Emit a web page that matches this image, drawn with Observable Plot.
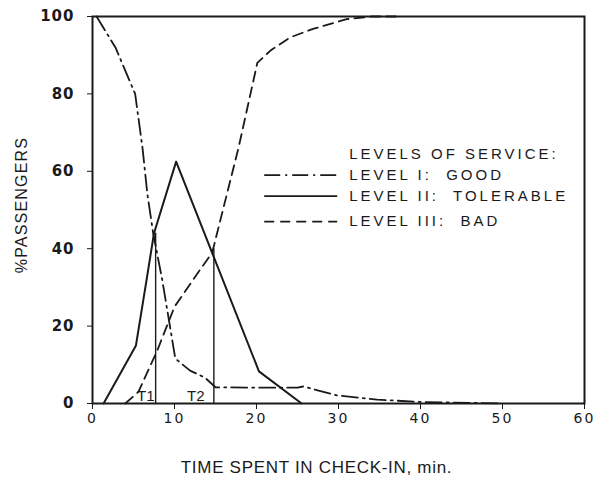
<!DOCTYPE html>
<html><head><meta charset="utf-8">
<script src="https://cdn.jsdelivr.net/npm/d3@7"></script>
<script src="https://cdn.jsdelivr.net/npm/@observablehq/plot@0.6"></script>
<style>
body{margin:0;background:#fff}
.lsp text{letter-spacing:3px}
.xt text{letter-spacing:2px}
.yt text{letter-spacing:1px}
.ylab text{letter-spacing:1.2px}
.xlab text{letter-spacing:0.7px}
</style>
</head><body><div id="chart"></div>
<script>
// Tick values
const xTicks = [0, 10, 20, 30, 40, 50, 60];
const yTicks = [0, 20, 40, 60, 80, 100];

// Level I: GOOD (dash-dot)
const goodX = [0.5, 2.8, 5.2, 6.1, 6.7, 7.4, 8.5, 10.1, 11.9, 13.7, 15, 20, 25, 25.7, 29.8, 34.7, 40, 50];
const goodY = [100, 92, 80, 66, 54, 44, 32, 11.6, 8.5, 6.7, 4.2, 4.1, 4.1, 4.4, 2.1, 1.0, 0.4, 0];

// Level II: TOLERABLE (solid)
const tolX = [1.35, 5.3, 6.6, 7.5, 10.2, 20.3, 25.5];
const tolY = [0, 15, 32, 44, 62.5, 8.3, 0];

// Level III: BAD (dashed)
const badX = [4, 5.6, 7.9, 10, 12.8, 14.6, 17.8, 20.1, 21.7, 24.1, 26.9, 31, 34, 37];
const badY = [0, 3, 13.7, 25, 33.6, 39, 66, 88, 91.2, 94.6, 96.8, 99.3, 100, 100];

// Threshold markers T1, T2
const markerNames = ["T1", "T2"];
const markerX = [7.7, 14.8];
const markerTop = [44, 40];
const markerLabelX = [6.5, 12.6];

// Legend
const legendTitle = "LEVELS OF SERVICE:";
const legendLabels = ["LEVEL I:  GOOD", "LEVEL II:  TOLERABLE", "LEVEL III:  BAD"];

const toRows = (xs, ys) => xs.map((x, i) => ({x, y: ys[i]}));
const good = toRows(goodX, goodY);
const tol = toRows(tolX, tolY);
const bad = toRows(badX, badY);
const markers = markerNames.map((name, i) => ({name, x: markerX[i], top: markerTop[i], lx: markerLabelX[i]}));

const dashes = ["16,5,2,5", null, "10,6"];
const legX1 = 21.0, legX2 = 29.9, legTextX = 31.3;
const legRowY = [59.0, 53.6, 47.0];
const legTitleY = 64.5;
const legendRows = legendLabels.map((label, i) => ({label, y: legRowY[i]}));

const font = "Liberation Sans, Arial, sans-serif";

const chart = Plot.plot({
  width: 613,
  height: 482,
  marginLeft: 92,
  marginRight: 29,
  marginTop: 16,
  marginBottom: 79,
  x: {domain: [0, 60]},
  y: {domain: [0, 100]},
  style: {fontFamily: font, color: "#1a1a1a", background: "#fff"},
  marks: [
    Plot.line(good, {x: "x", y: "y", stroke: "#1a1a1a", strokeWidth: 1.8, strokeDasharray: dashes[0]}),
    Plot.line(tol, {x: "x", y: "y", stroke: "#1a1a1a", strokeWidth: 2}),
    Plot.line(bad, {x: "x", y: "y", stroke: "#1a1a1a", strokeWidth: 1.8, strokeDasharray: dashes[2]}),
    Plot.ruleX(markers, {x: "x", y1: 0, y2: "top", stroke: "#1a1a1a", strokeWidth: 1.4}),
    Plot.text(markers, {x: "lx", y: 2, text: "name", fontSize: 15, fontFamily: font, fill: "#1a1a1a"}),
    // legend
    ...legendRows.map((r, i) => Plot.ruleY([r.y], {x1: legX1, x2: legX2, stroke: "#1a1a1a", strokeWidth: 1.8, strokeDasharray: dashes[i]})),
    Plot.text(legendRows, {x: legTextX, y: "y", text: "label", textAnchor: "start", fontSize: 15, fontFamily: font, fill: "#1a1a1a", className: "lsp"}),
    Plot.text([legendTitle], {x: legTextX, y: legTitleY, text: d => d, textAnchor: "start", fontSize: 15, fontFamily: font, fill: "#1a1a1a", className: "lsp"}),
    Plot.axisX({ticks: xTicks, tickSize: 6, tickPadding: 4, fontSize: 14, fontFamily: "DejaVu Sans, sans-serif", label: null, className: "xt"}),
    Plot.axisY({ticks: yTicks, tickSize: 5, tickPadding: 13, fontSize: 15, fontWeight: "bold", fontFamily: "DejaVu Sans, sans-serif", label: null, className: "yt"}),
    Plot.frame({stroke: "#1a1a1a", strokeWidth: 2}),
    Plot.text(["TIME SPENT IN CHECK-IN, min."], {frameAnchor: "bottom", dx: -22, dy: 69, text: d => d, fontSize: 17, fontFamily: font, fill: "#1a1a1a", className: "xlab"}),
    Plot.text(["%PASSENGERS"], {frameAnchor: "left", textAnchor: "middle", dx: -71, dy: -5, rotate: -90, text: d => d, fontSize: 16, fontFamily: font, fill: "#1a1a1a", className: "ylab"})
  ]
});
document.getElementById("chart").appendChild(chart);
</script>
</body></html>
